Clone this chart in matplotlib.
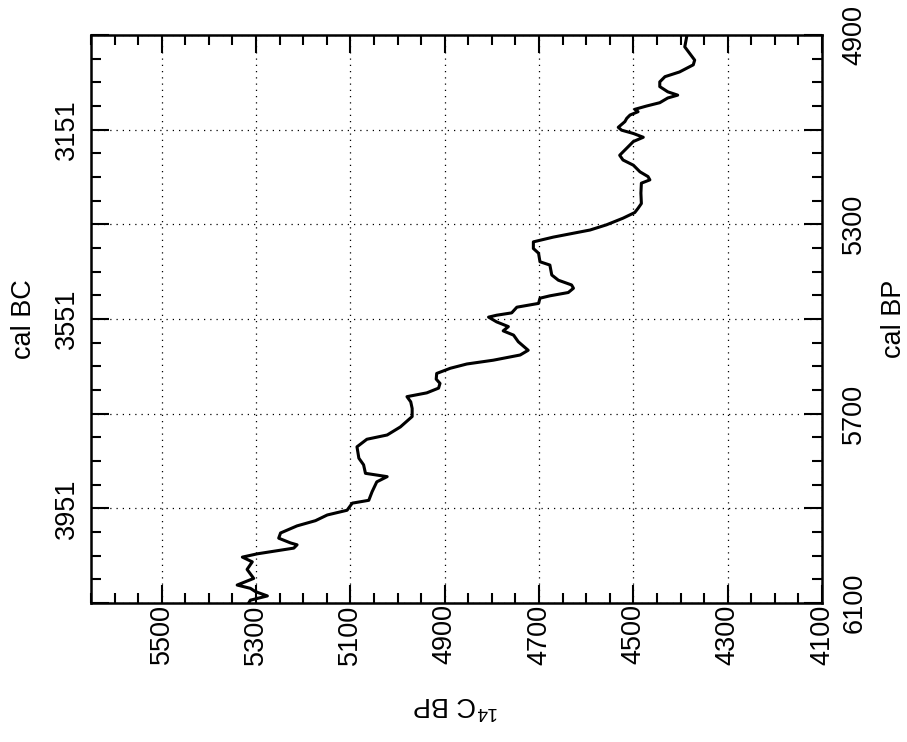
import matplotlib
matplotlib.use("Agg")
import matplotlib.pyplot as plt
from matplotlib.ticker import MultipleLocator, FixedLocator, FuncFormatter

plt.rcParams['font.family'] = ['Liberation Sans Narrow', 'Liberation Sans', 'DejaVu Sans']
plt.rcParams['mathtext.fontset'] = 'custom'
plt.rcParams['mathtext.rm'] = 'Liberation Sans'

# Calibration curve: calendar age (cal BP) and radiocarbon age (14C BP)
cal_bp = [4904, 4925, 4953, 4963, 4978, 4988, 4999, 5009, 5020, 5027, 5033, 5043,
          5050, 5057, 5062, 5069, 5076, 5083, 5095, 5101, 5108, 5116, 5125, 5136,
          5154, 5164, 5175, 5189, 5199, 5206, 5213, 5234, 5256, 5266, 5275, 5287,
          5301, 5312, 5316, 5327, 5337, 5351, 5361, 5379, 5386, 5407, 5418, 5428,
          5435, 5444, 5451, 5456, 5467, 5475, 5487, 5492, 5496, 5506, 5516, 5525,
          5534, 5548, 5566, 5576, 5587, 5595, 5604, 5615, 5627, 5636, 5646, 5656,
          5664, 5675, 5689, 5706, 5728, 5745, 5754, 5770, 5794, 5808, 5826, 5833,
          5844, 5865, 5883, 5889, 5904, 5914, 5926, 5937, 5952, 5963, 5973, 5977,
          5984, 5996, 6003, 6013, 6029, 6048, 6062, 6069, 6076, 6085, 6094, 6099]
c14_bp = [4387, 4391, 4370, 4373, 4402, 4433, 4444, 4444, 4427, 4406, 4427, 4444,
          4472, 4497, 4490, 4507, 4514, 4518, 4532, 4525, 4500, 4479, 4500, 4511,
          4529, 4522, 4500, 4486, 4469, 4465, 4483, 4484, 4483, 4490, 4497, 4522,
          4557, 4592, 4613, 4670, 4712, 4712, 4701, 4698, 4677, 4673, 4659, 4631,
          4627, 4638, 4677, 4698, 4701, 4747, 4758, 4790, 4807, 4790, 4765, 4776,
          4754, 4744, 4723, 4740, 4797, 4853, 4888, 4917, 4918, 4910, 4913, 4938,
          4980, 4972, 4969, 4969, 4994, 5022, 5065, 5086, 5082, 5072, 5068, 5022,
          5044, 5054, 5061, 5096, 5107, 5149, 5174, 5213, 5248, 5252, 5227, 5213,
          5220, 5297, 5329, 5308, 5319, 5305, 5340, 5312, 5301, 5276, 5312, 5315]

c14_ticks = [5500, 5300, 5100, 4900, 4700, 4500, 4300, 4100]
cal_bp_ticks = [4900, 5100, 5300, 5500, 5700, 5900, 6100]
cal_bp_labels = [4900, 5300, 5700, 6100]
cal_bc_ticks = [3151, 3551, 3951]

fig = plt.figure(figsize=(9.07, 7.42), dpi=100)
ax = fig.add_axes([0.1003, 0.1873, 0.8060, 0.7655])

ax.plot(c14_bp, cal_bp, color='black', lw=2.2, solid_joinstyle='round')

ax.set_xlim(5650, 4100)
ax.set_ylim(6100, 4900)

ax.xaxis.set_major_locator(FixedLocator(c14_ticks))
ax.xaxis.set_minor_locator(MultipleLocator(50))
ax.yaxis.set_major_locator(FixedLocator(cal_bp_ticks))
ax.yaxis.set_minor_locator(MultipleLocator(50))

ax.yaxis.set_major_formatter(FuncFormatter(
    lambda v, p: f"{int(round(v))}" if int(round(v)) in cal_bp_labels else ""))

ax.grid(True, which='major', linestyle=(0, (1, 4)), color='black', lw=0.9)

ax.tick_params(which='both', direction='in', top=True, bottom=True, left=True, right=True,
               labelleft=False, labelright=True, labelbottom=True, labeltop=False,
               width=1.5, labelsize=19.5)
ax.tick_params(which='major', length=13)
ax.tick_params(which='minor', length=7)
ax.tick_params(axis='x', which='major', pad=1, labelrotation=90)
ax.tick_params(axis='y', which='major', pad=14, labelrotation=90)
for lab in ax.get_yticklabels():
    lab.set_va('center')
for s in ax.spines.values():
    s.set_linewidth(1.8)

sec = ax.secondary_yaxis('left', functions=(lambda y: y - 1949, lambda y: y + 1949))
sec.set_yticks(cal_bc_ticks)
sec.tick_params(length=0, labelsize=19.5, pad=8, labelrotation=90)
sec.spines['left'].set_visible(False)
for lab in sec.get_yticklabels():
    lab.set_va('center')
sec.set_ylabel('cal BC', fontsize=19.5, rotation=90, labelpad=12)

ax.yaxis.set_label_position('right')
ax.set_ylabel('cal BP', fontsize=19.5, rotation=90, labelpad=10)
ax.set_xlabel('$^{14}$C BP', fontsize=19.5, rotation=180, labelpad=18)

fig.savefig('out.png', dpi=100)
